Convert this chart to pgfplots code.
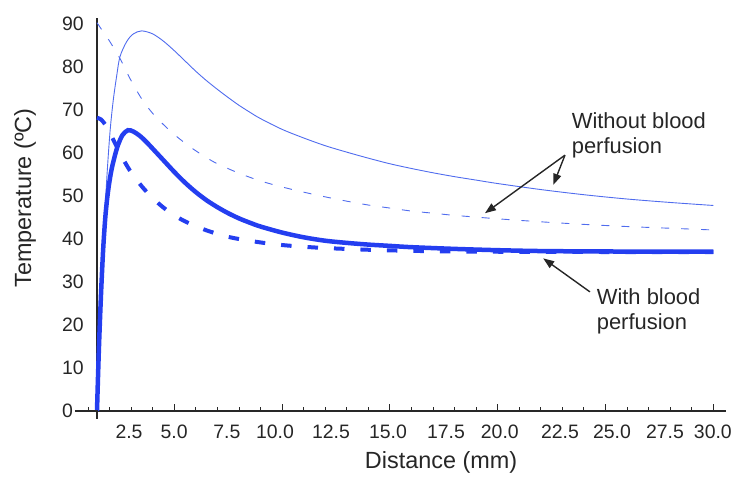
\documentclass[border=0pt]{standalone}
\usepackage{fontspec}
\setmainfont{Liberation Sans}
\usepackage{pgfplots}
\pgfplotsset{compat=1.18}
\usetikzlibrary{arrows.meta}
\definecolor{thickblue}{RGB}{36,62,240}
\definecolor{thinblue}{RGB}{80,108,238}
\definecolor{axisgray}{RGB}{40,40,40}

\pgfplotstableread{
x y
1.415 0
1.55 20
1.70 38
1.865 53.7
2.02 65
2.17 72.3
2.33 78
2.48 82.4
2.79 85.9
3.1 87.7
3.49 88.4
4.0 87.7
4.5 86.0
5.0 83.8
5.5 81.4
6.0 79.0
6.5 76.8
7.0 74.8
7.5 72.9
8.0 71.1
8.5 69.5
9.0 68.0
10.0 65.5
11.0 63.5
12.0 61.7
13.0 60.2
14.0 58.8
15.0 57.5
16.0 56.4
17.0 55.4
18.0 54.5
19.0 53.7
20.0 52.9
22.0 51.5
24.0 50.3
26.0 49.3
28.0 48.5
30.0 47.8
}\thinsolid

\pgfplotstableread{
x y
1.415 90.3
1.7 88.2
2.0 86.0
2.5 81.8
3.0 76.8
3.5 72.5
4.0 69.2
4.5 66.6
5.0 64.3
5.5 62.3
6.0 60.5
6.5 58.9
7.0 57.5
8.0 55.3
9.0 53.5
10.0 52.1
11.0 50.9
12.0 49.8
13.0 48.8
14.0 47.9
15.0 47.2
16.0 46.5
17.0 46.0
18.0 45.5
20.0 44.7
22.0 44.0
24.0 43.4
26.0 42.9
28.0 42.5
30.0 42.1
}\thindashed

\pgfplotstableread{
x y
1.415 0
1.5 14
1.6 27
1.7 37.5
1.8 45
1.9 50
2.0 53.6
2.1 56.4
2.25 59.5
2.4 62.0
2.6 64.2
2.85 65.3
3.1 65.0
3.4 64.0
3.7 62.6
4.0 61.0
4.5 58.3
5.0 55.6
5.5 53.1
6.0 50.9
6.5 49.0
7.0 47.4
7.5 46.0
8.0 44.8
8.5 43.8
9.0 42.9
10.0 41.5
11.0 40.4
12.0 39.6
13.0 39.1
14.0 38.7
15.0 38.4
16.0 38.1
18.0 37.7
20.0 37.4
22.0 37.2
25.0 37.1
30.0 37.05
}\thicksolid

\pgfplotstableread{
x y
1.415 68.2
1.6 67.8
1.8 66.6
2.0 64.8
2.25 62.3
2.5 59.8
2.75 57.5
3.0 55.5
3.5 52.2
4.0 49.5
4.5 47.3
5.0 45.5
5.5 44.1
6.0 43.0
6.5 42.0
7.0 41.2
7.5 40.5
8.0 40.0
9.0 39.2
10.0 38.6
11.0 38.2
12.0 37.9
14.0 37.5
16.0 37.25
18.0 37.1
22.0 37.0
30.0 36.95
}\thickdashed

\begin{document}
\begin{tikzpicture}
\path[use as bounding box] (-97bp,-67bp) rectangle (638bp,411bp);
\begin{axis}[
  at={(0,0)}, anchor=south west,
  scale only axis, width=629bp, height=393bp,
  xmin=1.415, xmax=30.59, ymin=0, ymax=91.4,
  clip=false,
  axis x line=bottom, axis y line=left,
  axis line style={-, line width=1.8bp, color=axisgray},
  xtick={2.90,4.99,7.44,9.67,12.27,14.91,17.60,20.10,22.89,25.30,27.76,29.98},
  xticklabels={2.5,5.0,7.5,10.0,12.5,15.0,17.5,20.0,22.5,25.0,27.5,30.0},
  xtick style={draw=none},
  xticklabel style={anchor=center, yshift=-19bp, inner sep=0pt},
  ytick={0,10,...,90},
  ytick style={draw=none},
  yticklabel style={anchor=west, inner sep=0pt, xshift=-33bp},
  ticklabel style={font=\fontsize{19.5}{22}\selectfont, color=black!85},
  /pgf/number format/assume math mode=true,
  xlabel={Distance (mm)},
  ylabel={Temperature (ºC)},
  label style={font=\fontsize{23.5}{26}\selectfont, color=black!85},
  xlabel style={at={(axis description cs:0.547,0)}, anchor=center, yshift=-51bp},
  ylabel style={at={(axis description cs:-0.1145,0.542)}, anchor=center},
]
\addplot[thinblue, line width=0.9bp, smooth, tension=0.5] table {\thinsolid};
\addplot[thinblue, line width=0.9bp, smooth, tension=0.5, dash pattern=on 8bp off 12bp] table {\thindashed};
\addplot[thickblue, line width=4bp, smooth, tension=0.5, dash pattern=on 10.5bp off 16bp] table {\thickdashed};
\addplot[thickblue, line width=4.5bp, smooth, tension=0.5] table {\thicksolid};

% annotations
\node[anchor=north west, align=left, inner sep=0pt, font=\fontsize{22}{25}\selectfont, color=black!85] at (axis cs:23.43,69.4) {Without blood\\perfusion};
\node[anchor=north west, align=left, inner sep=0pt, font=\fontsize{22}{25}\selectfont, color=black!85] at (axis cs:24.59,28.5) {With blood\\perfusion};
\draw[black!85, line width=1.4bp, -{Triangle[length=11bp,width=8bp]}] (axis cs:23.12,59.5) -- (axis cs:19.41,46.0);
\draw[black!85, line width=1.4bp, -{Triangle[length=11bp,width=8bp]}] (axis cs:23.12,59.5) -- (axis cs:22.58,52.6);
\draw[black!85, line width=1.4bp, -{Triangle[length=11bp,width=8bp]}] (axis cs:24.28,27.7) -- (axis cs:22.11,35.5);
\end{axis}
% axis extensions and x tick marks (axis origin at canvas (0,0); 21.56bp per mm; x=1.415 at 0)
\draw[axisgray, line width=1.8bp] (-22bp,0bp) -- (1bp,0bp);
\draw[axisgray, line width=1.8bp] (0bp,1bp) -- (0bp,-8bp);
\foreach \k in {1,2,3,4,6,7,8,9,11,12,13,14,16,17,18,19,21,22,23,24,26,27,28,29}
  \draw[axisgray, line width=0.9bp] ({(\k-1.415)*21.56bp},0bp) -- ++(0bp,3.8bp);
\foreach \k in {5,10,15,20,25,30}
  \draw[axisgray, line width=0.9bp] ({(\k-1.415)*21.56bp},0bp) -- ++(0bp,6.5bp);
\end{tikzpicture}
\end{document}
